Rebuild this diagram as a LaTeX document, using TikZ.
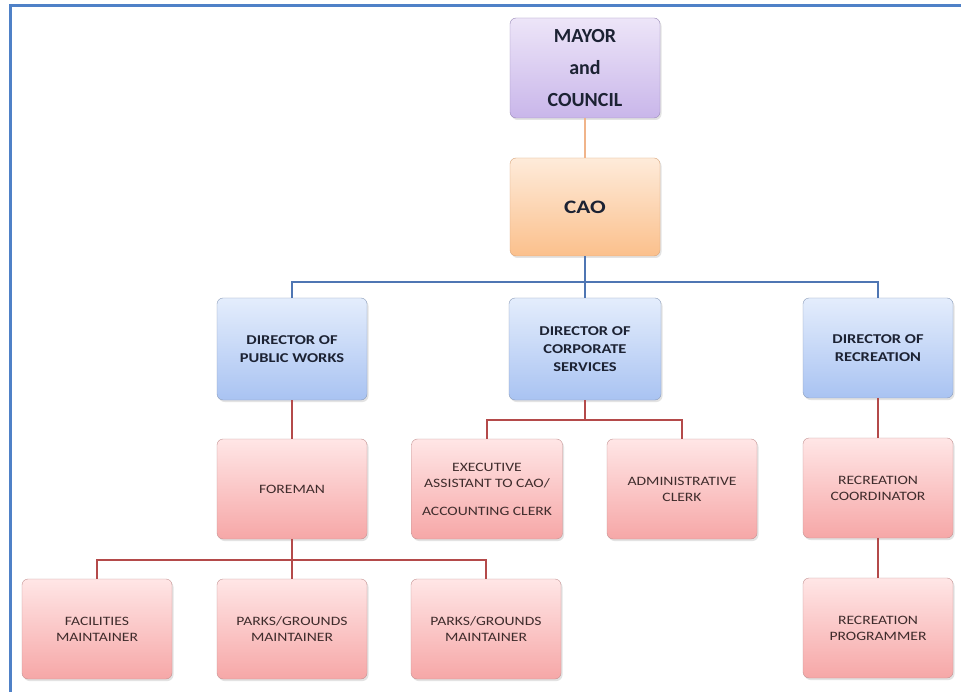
\documentclass[tikz,border=0pt]{standalone}
\usepackage{fontspec}
\setmainfont{Carlito}
\newfontfamily\boxfont{Carlito}[FakeStretch=1.22]
\usetikzlibrary{shadows}
\definecolor{frameblue}{HTML}{4F81C7}
\definecolor{linkorange}{HTML}{F0B48A}
\definecolor{linkblue}{HTML}{4F76B3}
\definecolor{linkred}{HTML}{B44A4A}
\definecolor{txtdark}{HTML}{1C2233}
\definecolor{txtred}{HTML}{3F2C2C}
\definecolor{purpleedge}{HTML}{9A8AB8}
\definecolor{purpletop}{HTML}{EDE5F8}
\definecolor{purplebot}{HTML}{C9B6EA}
\definecolor{orangeedge}{HTML}{D9A57A}
\definecolor{orangetop}{HTML}{FEEBDA}
\definecolor{orangebot}{HTML}{FBC08C}
\definecolor{blueedge}{HTML}{8C9DBA}
\definecolor{bluetop}{HTML}{E4EDFC}
\definecolor{bluebot}{HTML}{A9C3F2}
\definecolor{rededge}{HTML}{C49494}
\definecolor{redtop}{HTML}{FFE6E6}
\definecolor{redbot}{HTML}{F6A7A7}
\tikzset{
  box/.style={rectangle, rounded corners=6pt, minimum width=150pt, minimum height=100pt,
    align=center, inner sep=2pt,
    drop shadow={opacity=0.22, shadow xshift=1.5pt, shadow yshift=-2pt}},
  purplebox/.style={box, draw=purpleedge, top color=purpletop, bottom color=purplebot,
    font=\bfseries\fontsize{20}{32}\selectfont, text=txtdark},
  orangebox/.style={box, draw=orangeedge, top color=orangetop, bottom color=orangebot,
    font=\boxfont\bfseries\fontsize{19}{24}\selectfont, text=txtdark},
  bluebox/.style={box, draw=blueedge, top color=bluetop, bottom color=bluebot,
    font=\boxfont\bfseries\fontsize{13.5}{18}\selectfont, text=txtdark},
  redbox/.style={box, draw=rededge, top color=redtop, bottom color=redbot,
    font=\boxfont\fontsize{12.8}{16}\selectfont, text=txtred},
  orangelink/.style={draw=linkorange, line width=2pt},
  bluelink/.style={draw=linkblue, line width=2pt},
  redlink/.style={draw=linkred, line width=2pt},
}
\begin{document}
\begin{tikzpicture}[x=1pt,y=-1pt]
\useasboundingbox (0,0) rectangle (961,692);
\fill[white] (0,0) rectangle (961,692);
% frame
\draw[frameblue, line width=3pt] (10,692) -- (10,6) -- (961,6);

% nodes
\node[purplebox] (mayor) at (585,68) {MAYOR\\and\\COUNCIL};
\node[orangebox, minimum height=98pt] (cao) at (585,207) {CAO};

\node[bluebox, minimum height=102pt] (dpw) at (292,349) {DIRECTOR OF\\PUBLIC WORKS};
\node[bluebox, minimum height=102pt, minimum width=152pt] (dcs) at (585,349) {DIRECTOR OF\\CORPORATE\\SERVICES};
\node[bluebox, minimum height=100pt] (drec) at (878,348) {DIRECTOR OF\\RECREATION};

\node[redbox] (foreman) at (292,489) {FOREMAN};
\node[redbox, minimum width=151pt] (exec) at (487,489) {EXECUTIVE\\ASSISTANT TO CAO/\\[12pt]ACCOUNTING CLERK};
\node[redbox] (admin) at (682,489) {ADMINISTRATIVE\\CLERK};
\node[redbox] (reccoord) at (878,488) {RECREATION\\COORDINATOR};

\node[redbox] (fac) at (97,629) {FACILITIES\\MAINTAINER};
\node[redbox] (parks1) at (292,629) {PARKS/GROUNDS\\MAINTAINER};
\node[redbox] (parks2) at (486,629) {PARKS/GROUNDS\\MAINTAINER};
\node[redbox] (recprog) at (878,628) {RECREATION\\PROGRAMMER};

% connectors
\draw[orangelink] (mayor.south) -- (cao.north);

\coordinate (b1) at (585,282);
\draw[bluelink] (cao.south) -- (b1);
\draw[bluelink] (dpw.north) |- (b1) -| (drec.north);
\draw[bluelink] (b1) -- (dcs.north);

\draw[redlink] (dpw.south) -- (foreman.north);

\coordinate (c1) at (585,420);
\draw[redlink] (dcs.south) -- (c1);
\draw[redlink] (exec.north) |- (c1) -| (admin.north);

\coordinate (f1) at (292,560);
\draw[redlink] (foreman.south) -- (f1);
\draw[redlink] (fac.north) |- (f1) -| (parks2.north);
\draw[redlink] (f1) -- (parks1.north);

\draw[redlink] (drec.south) -- (reccoord.north);
\draw[redlink] (reccoord.south) -- (recprog.north);
\end{tikzpicture}
\end{document}
